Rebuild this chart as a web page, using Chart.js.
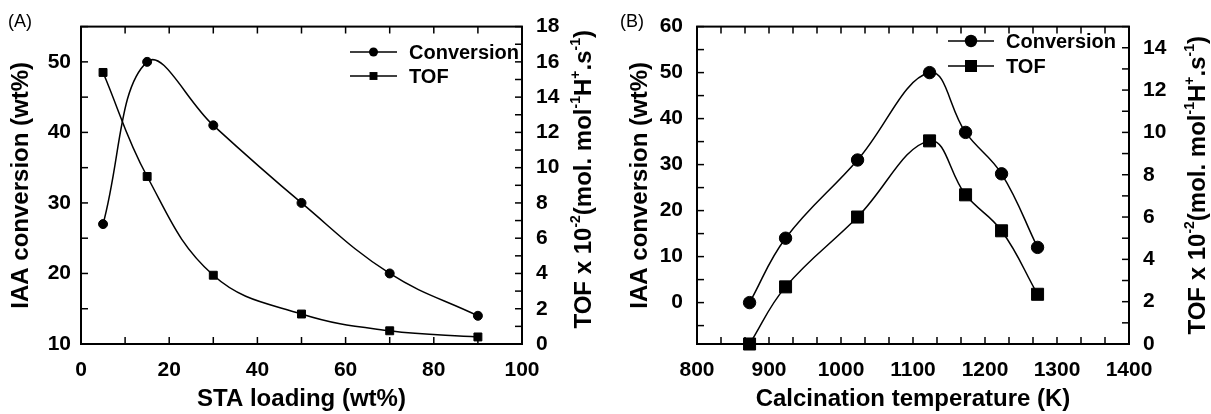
<!DOCTYPE html>
<html>
<head>
<meta charset="utf-8">
<script src="https://cdn.jsdelivr.net/npm/chart.js@4"></script>
<style>
  body { margin: 0; background: #fff; }
  #wrap { display: flex; width: 1211px; height: 414px; }
  canvas { display: block; }
</style>
</head>
<body>
<div id="wrap">
  <canvas id="chartA" width="605" height="414"></canvas>
  <canvas id="chartB" width="606" height="414"></canvas>
</div>
<script>
// panel A - STA loading
const loading = [5, 15, 30, 50, 70, 90];
const convA = [27, 50, 41, 30, 20, 14];
const tofA = [15.4, 9.5, 3.9, 1.7, 0.75, 0.4];

// panel B - calcination temperature
const temps = [873, 923, 1023, 1123, 1173, 1223, 1273];
const convB = [0, 14, 31, 50, 37, 28, 12];
const tofB = [0, 2.7, 6.0, 9.6, 7.05, 5.35, 2.35];

const seriesNames = ['Conversion', 'TOF'];
const tofTitle = [['TOF x 10', 0], ['-2', 1], ['(mol. mol', 0], ['-1', 1], ['H', 0], ['+', 1], ['.s', 0], ['-1', 1], [')', 0]];

const FAMILY = '"Liberation Sans", Arial, sans-serif';
Chart.defaults.font.family = FAMILY;
Chart.defaults.color = '#000';

function axisTicks(min, max, step) {
  return scale => {
    const out = [];
    const first = Math.ceil(min / step - 1e-9) * step;
    for (let v = first; v <= max + 1e-9; v += step) out.push({value: Math.round(v * 1e6) / 1e6});
    scale.ticks = out;
  };
}
function majorOnly(every) {
  return v => Math.abs(v / every - Math.round(v / every)) < 1e-6 ? String(Math.round(v)) : '';
}
const pts = (xs, ys) => xs.map((x, i) => ({x: x, y: ys[i]}));
const tickFont = {size: 21, weight: 'bold'};
const titleFont = {size: 24, weight: 'bold'};

// inward ticks, frame box, panel tag, legend and the right-hand title
const frame = {
  id: 'frame',
  afterDraw(chart, args, o) {
    const {ctx, chartArea: a} = chart;
    ctx.save();
    ctx.strokeStyle = '#000';
    ctx.fillStyle = '#000';
    ctx.lineWidth = 1.5;
    const len = 7;
    ['x', 'y', 'y2'].forEach(id => {
      const s = chart.scales[id];
      s.ticks.forEach(t => {
        const p = s.getPixelForValue(t.value);
        ctx.beginPath();
        if (id === 'x') {
          ctx.moveTo(p, a.bottom); ctx.lineTo(p, a.bottom - len);
          ctx.moveTo(p, a.top); ctx.lineTo(p, a.top + len);
        } else if (id === 'y') {
          ctx.moveTo(a.left, p); ctx.lineTo(a.left + len, p);
        } else {
          ctx.moveTo(a.right, p); ctx.lineTo(a.right - len, p);
        }
        ctx.stroke();
      });
    });
    ctx.lineWidth = 2;
    ctx.strokeRect(a.left, a.top, a.width, a.height);

    // panel tag
    ctx.font = '18px ' + FAMILY;
    ctx.textBaseline = 'middle';
    ctx.textAlign = 'left';
    ctx.fillText(o.tag, o.tagX, o.tagY);

    // legend
    ctx.font = 'bold 20px ' + FAMILY;
    chart.data.datasets.forEach((ds, i) => {
      const y = o.legendY[i];
      ctx.lineWidth = 1.5;
      ctx.beginPath();
      ctx.moveTo(o.legendX0, y); ctx.lineTo(o.legendX1, y);
      ctx.stroke();
      const mx = (o.legendX0 + o.legendX1) / 2;
      const r = ds.pointRadius;
      ctx.beginPath();
      if (ds.pointStyle === 'rect') {
        const h = r * Math.SQRT1_2;
        ctx.rect(mx - h, y - h, 2 * h, 2 * h);
      } else {
        ctx.arc(mx, y, r, 0, Math.PI * 2);
      }
      ctx.fill();
      ctx.fillText(ds.label, o.legendTX, y + 1);
    });

    // right axis title with superscripts
    const big = 'bold 24px ' + FAMILY, small = 'bold 14px ' + FAMILY;
    let total = 0;
    tofTitle.forEach(([t, sup]) => { ctx.font = sup ? small : big; total += ctx.measureText(t).width; });
    ctx.translate(o.titleX, (a.top + a.bottom) / 2 + o.titleDY);
    ctx.rotate(-Math.PI / 2);
    ctx.textBaseline = 'alphabetic';
    let x = -total / 2;
    tofTitle.forEach(([t, sup]) => {
      ctx.font = sup ? small : big;
      ctx.fillText(t, x, sup ? -2 : 8.5);
      x += ctx.measureText(t).width;
    });
    ctx.restore();
  }
};

function makeChart(id, cfg) {
  const ds = (label, data, style, r, axis) => ({
    label: label, data: data, yAxisID: axis,
    borderColor: '#000', backgroundColor: '#000', borderWidth: 1.5,
    pointStyle: style, pointRadius: r, pointHoverRadius: r, pointBorderWidth: 1,
    tension: 0.4, clip: false
  });
  return new Chart(document.getElementById(id), {
    type: 'line',
    data: {
      datasets: [
        ds(seriesNames[0], cfg.conv, 'circle', cfg.circleR, 'y'),
        ds(seriesNames[1], cfg.tof, 'rect', cfg.rectR, 'y2')
      ]
    },
    options: {
      responsive: false,
      animation: false,
      devicePixelRatio: 1,
      layout: {padding: {top: cfg.top, left: 0, right: 0, bottom: 0}},
      plugins: {
        legend: {display: false},
        tooltip: {enabled: false},
        frame: cfg.frame
      },
      scales: {
        x: {
          type: 'linear', min: cfg.x[0], max: cfg.x[1],
          afterBuildTicks: axisTicks(cfg.x[0], cfg.x[1], cfg.x[2]),
          afterFit: s => { s.height = 70; },
          grid: {display: false, drawTicks: false},
          border: {display: false},
          ticks: {callback: majorOnly(cfg.x[3]), autoSkip: false, maxRotation: 0, padding: 14, font: tickFont},
          title: {display: true, text: cfg.xTitle, font: titleFont, padding: {top: 0, bottom: 0}}
        },
        y: {
          position: 'left', min: cfg.y[0], max: cfg.y[1],
          afterBuildTicks: axisTicks(cfg.y[0], cfg.y[1], cfg.y[2]),
          afterFit: s => { s.width = cfg.leftW; },
          grid: {display: false, drawTicks: false},
          border: {display: false},
          ticks: {callback: majorOnly(cfg.y[3]), autoSkip: false, padding: cfg.leftPad, font: tickFont},
          title: {display: true, text: 'IAA conversion (wt%)', font: titleFont, padding: {top: cfg.leftTitlePad, bottom: 0}}
        },
        y2: {
          position: 'right', min: cfg.y2[0], max: cfg.y2[1],
          afterBuildTicks: axisTicks(cfg.y2[0], cfg.y2[1], cfg.y2[2]),
          afterFit: s => { s.width = cfg.rightW; },
          grid: {display: false, drawTicks: false},
          border: {display: false},
          ticks: {callback: majorOnly(cfg.y2[3]), autoSkip: false, padding: 14, font: tickFont}
        }
      }
    },
    plugins: [frame]
  });
}

makeChart('chartA', {
  conv: pts(loading, convA), tof: pts(loading, tofA),
  circleR: 4.5, rectR: 5.6, top: 25,
  x: [0, 100, 10, 20], y: [10, 55, 5, 10], y2: [0, 18, 1, 2],
  xTitle: 'STA loading (wt%)',
  leftW: 81, rightW: 83, leftPad: 10, leftTitlePad: 7,
  frame: {tag: '(A)', tagX: 8, tagY: 22, legendX0: 350, legendX1: 397, legendTX: 409, legendY: [52, 76], titleX: 582, titleDY: -6}
});

makeChart('chartB', {
  conv: pts(temps, convB), tof: pts(temps, tofB),
  circleR: 6.2, rectR: 8.5, top: 21,
  x: [800, 1400, 100 / 3, 100], y: [-9, 60, 5, 10], y2: [0, 15, 1, 2],
  xTitle: 'Calcination temperature (K)',
  leftW: 92, rightW: 82, leftPad: 14, leftTitlePad: 21,
  frame: {tag: '(B)', tagX: 15, tagY: 22, legendX0: 343, legendX1: 389, legendTX: 401, legendY: [41, 66], titleX: 591, titleDY: 0}
});
</script>
</body>
</html>
